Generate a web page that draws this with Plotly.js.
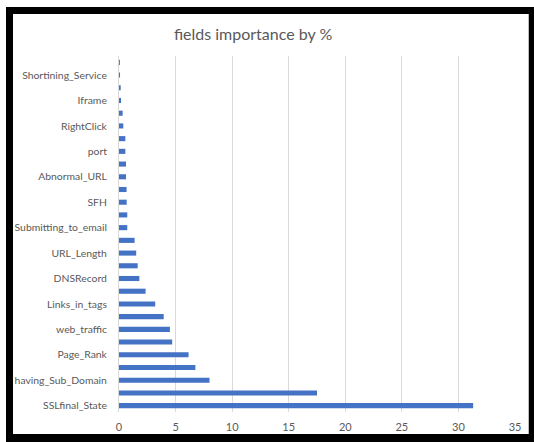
<!DOCTYPE html>
<html>
<head>
<meta charset="utf-8">
<script src="https://cdn.plot.ly/plotly-3.0.1.min.js"></script>
<style>
  html, body { margin: 0; padding: 0; background: #ffffff; }
  #frame { position: absolute; left: 6px; top: 7px; width: 528px; height: 435px; border-left: 7px solid #000; border-top: 7px solid #000; border-right: 5px solid #000; border-bottom: 8px solid #000; box-sizing: border-box; background: #fff; }
  #inner { position: absolute; left: 0; top: 0; right: 0; bottom: 0; border-right: 1px solid #bfbfbf; }
  #chart { position: absolute; left: 0; top: 0; width: 534px; height: 442px; }
</style>
</head>
<body>
<div id="frame"><div id="inner"></div></div>
<div id="chart"></div>
<script>
// Categories listed bottom to top (as drawn)
const fields = [
  "SSLfinal_State", "URL_of_Anchor", "having_Sub_Domain", "Prefix_Suffix",
  "Page_Rank", "Links_pointing_to_page", "web_traffic", "Request_URL",
  "Links_in_tags", "age_of_domain", "DNSRecord", "Domain_registeration_length",
  "URL_Length", "having_IP_Address", "Submitting_to_email", "Google_Index",
  "SFH", "Statistical_report", "Abnormal_URL", "HTTPS_token",
  "port", "having_At_Symbol", "RightClick", "popUpWidnow",
  "Iframe", "on_mouseover", "Shortining_Service", "Favicon"
];
const importance = [
  31.3, 17.5, 8.0, 6.75,
  6.15, 4.7, 4.5, 3.95,
  3.2, 2.35, 1.8, 1.65,
  1.52, 1.38, 0.73, 0.73,
  0.68, 0.67, 0.62, 0.62,
  0.56, 0.56, 0.38, 0.32,
  0.18, 0.15, 0.09, 0.08
];
// Labels shown on the axis (every other category, as in the original)
const shownLabels = [
  "SSLfinal_State", "having_Sub_Domain", "Page_Rank", "web_traffic",
  "Links_in_tags", "DNSRecord", "URL_Length", "Submitting_to_email",
  "SFH", "Abnormal_URL", "port", "RightClick", "Iframe", "Shortining_Service"
];
const xTicks = [0, 5, 10, 15, 20, 25, 30, 35];

const font = "Lato, 'Open Sans', 'DejaVu Sans', sans-serif";

const trace = {
  type: "bar",
  orientation: "h",
  x: importance,
  y: fields,
  marker: { color: "#4472C4" },
  hoverinfo: "x+y"
};

const layout = {
  width: 534,
  height: 442,
  paper_bgcolor: "rgba(0,0,0,0)",
  plot_bgcolor: "rgba(0,0,0,0)",
  margin: { l: 119, r: 19, t: 56, b: 30 },
  bargap: 0.6,
  showlegend: false,
  title: {
    text: "fields importance by %",
    font: { family: font, size: 16, color: "#595959" },
    x: 0.474, xanchor: "center",
    y: 0.922, yanchor: "middle"
  },
  xaxis: {
    range: [0, 35],
    tickvals: xTicks,
    ticktext: xTicks.map(String),
    showgrid: true,
    gridcolor: "#d9d9d9",
    gridwidth: 1,
    zeroline: false,
    showline: false,
    ticks: "outside",
    ticklen: 5,
    tickcolor: "rgba(0,0,0,0)",
    tickfont: { family: font, size: 11, color: "#595959" },
    fixedrange: true
  },
  yaxis: {
    type: "category",
    categoryorder: "array",
    categoryarray: fields,
    range: [-0.5, fields.length - 0.5],
    tickvals: shownLabels,
    ticktext: shownLabels,
    showgrid: false,
    zeroline: false,
    showline: true,
    linecolor: "#d9d9d9",
    linewidth: 1,
    ticks: "outside",
    ticklen: 9,
    tickcolor: "rgba(0,0,0,0)",
    tickfont: { family: font, size: 10.4, color: "#595959" },
    fixedrange: true
  }
};

Plotly.newPlot("chart", [trace], layout, { displayModeBar: false, staticPlot: true });
</script>
</body>
</html>
